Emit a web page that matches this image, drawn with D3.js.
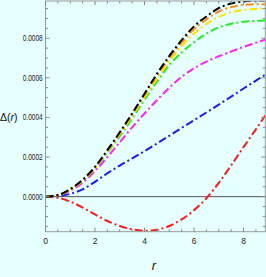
<!DOCTYPE html>
<html>
<head>
<meta charset="utf-8">
<script src="https://cdn.jsdelivr.net/npm/d3@7"></script>
<style>
  html, body { margin: 0; padding: 0; background: #e6ffff; }
  svg { display: block; }
  .tick-label { font-family: "Liberation Sans Narrow", "Liberation Sans", Arial, sans-serif; font-size: 8.5px; fill: #222; }
  .axis-title { font-family: "Liberation Sans", Arial, sans-serif; fill: #111; }
</style>
</head>
<body>
<svg id="chart" width="266" height="277"></svg>
<script>
// radius samples
var rVals = [0, 0.5, 1, 1.5, 2, 2.5, 3, 3.5, 4, 4.5, 5, 5.5, 6, 6.5, 7, 7.5, 8, 8.5, 8.88];

var blackVals   = [0, 0.000008, 0.000038, 0.000085, 0.00015, 0.000235, 0.000325, 0.00042, 0.00052, 0.00062, 0.00071, 0.00079, 0.00086, 0.00091, 0.000952, 0.000975, 0.000986, 0.00099, 0.00099];
var orangeVals  = [0, 0.000008, 0.000037, 0.000084, 0.000148, 0.000232, 0.000321, 0.000415, 0.000513, 0.00061, 0.0007, 0.000778, 0.000845, 0.000895, 0.000935, 0.000957, 0.000968, 0.000972, 0.000972];
var yellowVals  = [0, 0.000008, 0.000036, 0.000082, 0.000145, 0.000228, 0.000315, 0.000407, 0.000502, 0.000596, 0.000684, 0.00076, 0.000823, 0.000872, 0.000908, 0.000931, 0.000943, 0.000948, 0.00095];
var greenVals   = [0, 0.000007, 0.000035, 0.00008, 0.000142, 0.000222, 0.000305, 0.000395, 0.00049, 0.00058, 0.000665, 0.000728, 0.00078, 0.000823, 0.000855, 0.000873, 0.000883, 0.000888, 0.00089];
var magentaVals = [0, 0.000007, 0.00003, 0.00007, 0.00013, 0.0002, 0.000275, 0.00035, 0.00042, 0.000487, 0.00055, 0.000605, 0.000648, 0.000682, 0.000709, 0.000733, 0.000756, 0.000777, 0.000793];
var blueVals    = [0, 0.000004, 0.000014, 0.000037, 0.000075, 0.000118, 0.000157, 0.000193, 0.00023, 0.000268, 0.000307, 0.000347, 0.000386, 0.000425, 0.000465, 0.000505, 0.000546, 0.000586, 0.000616];
var redVals     = [0, -0.000006, -0.000025, -0.000055, -0.00009, -0.000123, -0.000148, -0.000165, -0.000172, -0.000167, -0.000148, -0.000115, -0.000068, -0.000008, 0.00007, 0.000158, 0.00025, 0.00034, 0.00041];

var xTicks = [0, 2, 4, 6, 8];
var yTicks = [0, 0.0002, 0.0004, 0.0006, 0.0008];

// drawn bottom to top
var seriesList = [
  {name: "red", color: "#ff1a1a", vals: redVals},
  {name: "blue", color: "#1a1aff", vals: blueVals},
  {name: "magenta", color: "#ff22ff", vals: magentaVals},
  {name: "green", color: "#22ee22", vals: greenVals},
  {name: "yellow", color: "#ffe000", vals: yellowVals},
  {name: "orange", color: "#ff8c1a", vals: orangeVals},
  {name: "black", color: "#000000", vals: blackVals}
];

var svg = d3.select("#chart");
var plotLeft = 45.5, plotRight = 265.3, plotTop = 1, plotBottom = 231.7;

var x = d3.scaleLinear().domain([0, 8.88]).range([plotLeft, plotRight]);
var y = d3.scaleLinear().domain([-0.000177, 0.000988]).range([plotBottom, plotTop]);

svg.append("clipPath").attr("id", "plotclip")
  .append("rect")
  .attr("x", plotLeft).attr("y", plotTop)
  .attr("width", plotRight - plotLeft).attr("height", plotBottom - plotTop);

// zero line
svg.append("line")
  .attr("x1", plotLeft).attr("x2", plotRight)
  .attr("y1", y(0)).attr("y2", y(0))
  .style("stroke", "#555")
  .style("stroke-width", 1);

var line = d3.line()
  .x(function(d) { return x(d[0]); })
  .y(function(d) { return y(d[1]); })
  .curve(d3.curveMonotoneX);

var g = svg.append("g").attr("clip-path", "url(#plotclip)");
g.selectAll("path.curve")
  .data(seriesList)
  .join("path")
  .classed("curve", true)
  .attr("d", function(s) { return line(rVals.map(function(r, i) { return [r, s.vals[i]]; })); })
  .style("fill", "none")
  .style("stroke", function(s) { return s.color; })
  .style("stroke-width", 2)
  .style("stroke-dasharray", "8,3,2,3");

// frame
svg.append("rect")
  .attr("x", plotLeft).attr("y", plotTop)
  .attr("width", plotRight - plotLeft).attr("height", plotBottom - plotTop)
  .style("fill", "none")
  .style("stroke", "#999")
  .style("stroke-width", 1);

// ticks on all four sides, pointing in
var xMinor = d3.range(0, 8.9, 0.5);
var yMinor = d3.range(-0.00015, 0.00099, 0.00005);
var tickColor = "#888";

function isMajor(v, list) {
  return list.some(function(t) { return Math.abs(t - v) < 1e-9; });
}

var ticks = svg.append("g").style("stroke", tickColor).style("stroke-width", 1);
xMinor.forEach(function(v) {
  var len = isMajor(v, xTicks) ? 4 : 2.5;
  ticks.append("line").attr("x1", x(v)).attr("x2", x(v)).attr("y1", plotBottom).attr("y2", plotBottom - len);
  ticks.append("line").attr("x1", x(v)).attr("x2", x(v)).attr("y1", plotTop).attr("y2", plotTop + len);
});
yMinor.forEach(function(v) {
  var len = isMajor(v, yTicks) ? 4 : 2.5;
  ticks.append("line").attr("y1", y(v)).attr("y2", y(v)).attr("x1", plotLeft).attr("x2", plotLeft + len);
  ticks.append("line").attr("y1", y(v)).attr("y2", y(v)).attr("x1", plotRight).attr("x2", plotRight - len);
});

// tick labels
svg.selectAll("text.xlab")
  .data(xTicks)
  .join("text")
  .classed("tick-label", true)
  .attr("x", function(d) { return x(d); })
  .attr("y", 244)
  .attr("text-anchor", "middle")
  .text(function(d) { return d; });

svg.selectAll("text.ylab")
  .data(yTicks)
  .join("text")
  .classed("tick-label", true)
  .attr("x", 22.7)
  .attr("y", function(d) { return y(d) + 3; })
  .attr("textLength", 20)
  .attr("lengthAdjust", "spacingAndGlyphs")
  .text(function(d) { return d3.format(".4f")(d); });

// axis titles
var yt = svg.append("text").classed("axis-title", true)
  .attr("x", 0).attr("y", 121)
  .style("font-size", "10.5px");
yt.append("tspan").text("\u0394(");
yt.append("tspan").style("font-style", "italic").text("r");
yt.append("tspan").text(")");

svg.append("text").classed("axis-title", true)
  .attr("x", 154).attr("y", 270)
  .attr("text-anchor", "middle")
  .style("font-size", "13px")
  .style("font-style", "italic")
  .text("r");
</script>
</body>
</html>
